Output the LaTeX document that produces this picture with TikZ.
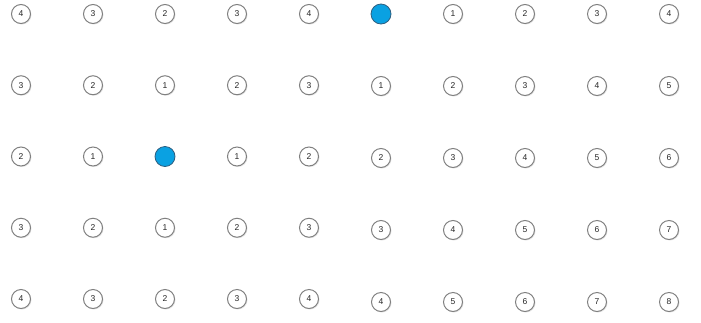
\documentclass[tikz,border=0pt]{standalone}
\usepackage{fontspec}
\setmainfont{Liberation Sans}
\usetikzlibrary{shadows}
\definecolor{ringgray}{HTML}{808080}
\definecolor{srcblue}{HTML}{0AA1E2}
\definecolor{srcedge}{HTML}{2E5F80}
\tikzset{
    distnode/.style={circle,draw=ringgray,fill=white,line width=1pt,
      minimum size=19pt,inner sep=0pt,font=\fontsize{8.5}{9}\selectfont,
      text=black!85,
      drop shadow={opacity=0.2,shadow xshift=1pt,shadow yshift=-1pt}},
    srcnode/.style={circle,draw=srcedge,fill=srcblue,line width=0.8pt,
      minimum size=20pt,inner sep=0pt}
}
\begin{document}
\begin{tikzpicture}[x=1pt,y=-1pt]
  \useasboundingbox (0,0) rectangle (701,322);
  % 0 marks a source cell
  \foreach \row/\vals in {0/{4,3,2,3,4,0,1,2,3,4},1/{3,2,1,2,3,1,2,3,4,5},
      2/{2,1,0,1,2,2,3,4,5,6},3/{3,2,1,2,3,3,4,5,6,7},4/{4,3,2,3,4,4,5,6,7,8}}
    \foreach \v [count=\col from 0] in \vals {
      \ifnum\v=0
        \node[srcnode] (c\row\col) at ({21+72*\col},{14+\row*(\col<5?71.25:72)}) {};
      \else
        \node[distnode] (c\row\col) at ({21+72*\col},{14+\row*(\col<5?71.25:72)}) {\v};
      \fi
    }
\end{tikzpicture}
\end{document}
